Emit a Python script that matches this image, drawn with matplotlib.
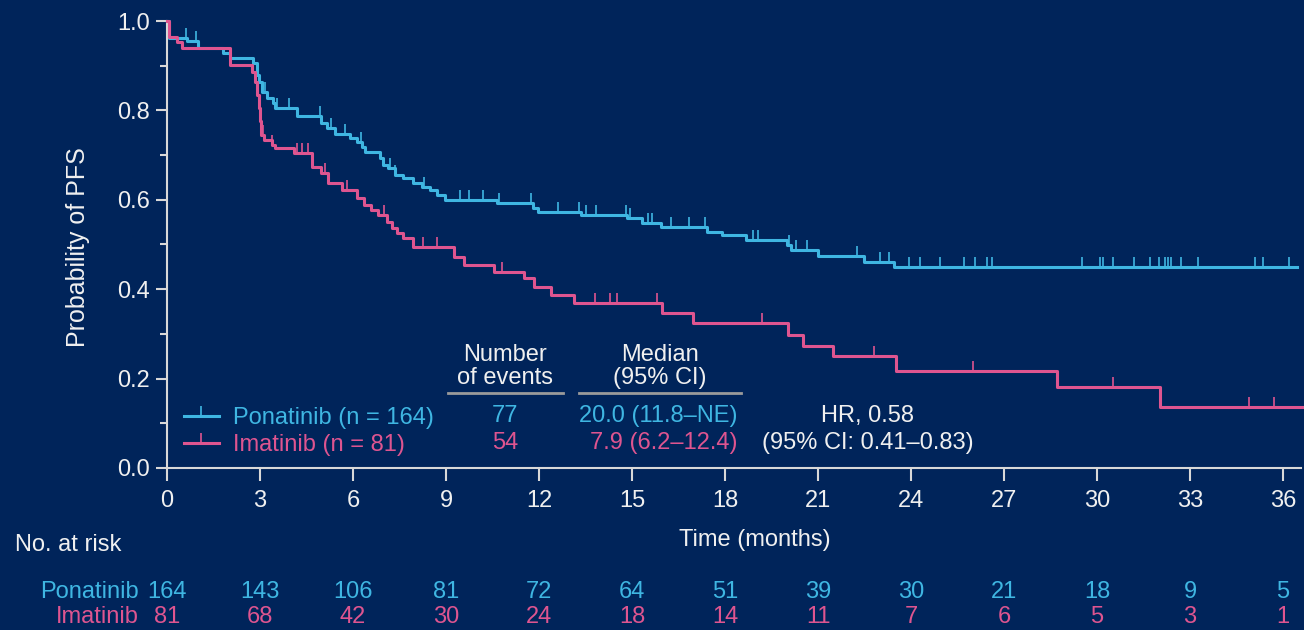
import numpy as np
import matplotlib.pyplot as plt
from matplotlib.lines import Line2D
from matplotlib.transforms import blended_transform_factory

plt.rcParams['font.family'] = ['Liberation Sans', 'DejaVu Sans']

BG = '#00245a'
CYAN = '#3fb6e2'
PINK = '#de5590'
FG = '#f0f0f0'
AXC = '#d8d8d8'
FS = 17

# Kaplan-Meier steps: time of each drop (months) and survival after it
pon_t = [0.05, 0.65, 1.0, 1.8, 2.03, 2.77, 2.9, 2.97, 3.06, 3.23, 3.42, 3.48,
         4.19, 4.97, 5.16, 5.42, 5.9, 6.13, 6.29, 6.39, 6.87, 6.97, 7.13, 7.35,
         7.61, 7.94, 8.23, 8.48, 8.71, 8.97, 10.65, 11.8, 11.97, 13.35, 14.84,
         15.32, 15.94, 17.42, 17.9, 18.68, 20.0, 20.13, 21.0, 22.48, 23.45]
pon_s = [0.963, 0.956, 0.94, 0.928, 0.917, 0.906, 0.88, 0.864, 0.841, 0.828,
         0.816, 0.805, 0.788, 0.771, 0.761, 0.748, 0.738, 0.73, 0.718, 0.707,
         0.694, 0.678, 0.671, 0.655, 0.649, 0.638, 0.629, 0.622, 0.611, 0.60,
         0.593, 0.582, 0.573, 0.566, 0.559, 0.548, 0.539, 0.528, 0.521, 0.51,
         0.499, 0.488, 0.475, 0.46, 0.45]
pon_end = 36.45
pon_cens = [0.6, 0.95, 3.15, 3.55, 3.95, 4.93, 5.3, 5.75, 6.25, 7.2, 7.35, 8.3,
            9.45, 9.75, 10.2, 10.7, 11.75, 12.6, 13.3, 13.5, 13.85, 14.8, 14.95,
            15.5, 15.65, 16.25, 16.85, 17.35, 18.9, 19.05, 20.05, 20.3, 20.65,
            22.25, 23.0, 23.3, 23.95, 24.3, 24.95, 25.7, 26.05, 26.45, 26.6,
            29.5, 30.1, 30.2, 30.5, 31.2, 31.7, 32.0, 32.2, 32.3, 32.4, 32.7,
            33.25, 35.1, 35.35, 36.2]

imat_t = [0.05, 0.32, 0.48, 2.03, 2.74, 2.84, 2.9, 2.97, 3.0, 3.03, 3.13, 3.39,
          3.48, 4.1, 4.68, 4.97, 5.19, 5.65, 6.13, 6.35, 6.58, 6.81, 7.1, 7.26,
          7.42, 7.61, 7.94, 9.26, 9.58, 10.55, 11.52, 11.84, 12.39, 13.13,
          15.97, 16.97, 20.03, 20.52, 21.48, 23.52, 28.71, 32.03]
imat_s = [0.965, 0.954, 0.94, 0.902, 0.886, 0.864, 0.834, 0.805, 0.777, 0.745,
          0.734, 0.723, 0.716, 0.705, 0.674, 0.66, 0.638, 0.622, 0.604, 0.589,
          0.577, 0.566, 0.55, 0.537, 0.526, 0.515, 0.495, 0.473, 0.454, 0.438,
          0.424, 0.405, 0.386, 0.369, 0.347, 0.324, 0.298, 0.273, 0.251, 0.218,
          0.182, 0.136]
imat_end = 36.6
imat_cens = [3.1, 3.4, 4.2, 4.35, 4.55, 5.1, 5.8, 7.0, 8.25, 8.7, 10.8, 13.8,
             14.3, 14.5, 15.8, 19.2, 22.8, 26.0, 30.5, 34.9, 35.7]

risk_months = list(range(0, 37, 3))
pon_risk = [164, 143, 106, 81, 72, 64, 51, 39, 30, 21, 18, 9, 5]
imat_risk = [81, 68, 42, 30, 24, 18, 14, 11, 7, 6, 5, 3, 1]


def km_arrays(times, surv, end):
    t = np.r_[0.0, times, end]
    s = np.r_[1.0, surv, surv[-1]]
    return t, s


def level_at(times, surv, x):
    idx = np.searchsorted(times, x, side='right')
    return np.r_[1.0, surv][idx]


fig = plt.figure(figsize=(13.04, 6.3), dpi=100, facecolor=BG)
ax = fig.add_axes([167 / 1304, 162 / 630, 1134 / 1304, 447 / 630])
ax.set_facecolor(BG)

for times, surv, end, cens, col in [(pon_t, pon_s, pon_end, pon_cens, CYAN),
                                    (imat_t, imat_s, imat_end, imat_cens, PINK)]:
    t, s = km_arrays(times, surv, end)
    ax.step(t, s, where='post', color=col, lw=2.2, clip_on=False, zorder=3)
    ax.plot(cens, level_at(times, surv, np.array(cens)), ls='none', marker=2,
            ms=7, mew=1.2, color=col, clip_on=False, zorder=3)

ax.set_xlim(0, 36.58)
ax.set_ylim(0, 1.0)
for side in ['top', 'right']:
    ax.spines[side].set_visible(False)
for side in ['left', 'bottom']:
    ax.spines[side].set_color(AXC)
    ax.spines[side].set_linewidth(1.5)

ax.set_xticks(risk_months)
ax.set_yticks(np.arange(0, 1.01, 0.2))
ax.set_yticks(np.arange(0.1, 1.0, 0.2), minor=True)
ax.set_yticklabels([f'{v:.1f}' for v in np.arange(0, 1.01, 0.2)])
ax.tick_params(axis='both', colors=AXC, labelcolor=FG, labelsize=FS, width=1.5)
ax.tick_params(axis='y', which='major', length=8, pad=4)
ax.tick_params(axis='y', which='minor', length=5, width=1.5, colors=AXC)
ax.tick_params(axis='x', length=9, pad=7)

fig.text(78 / 1304, 1 - 247 / 630, 'Probability of PFS', rotation=90,
         ha='center', va='center', color=FG, fontsize=18)
fig.text(755 / 1304, 1 - 540 / 630, 'Time (months)', ha='center', va='center',
         color=FG, fontsize=FS)

# legend with censor-tick handles
handles = [Line2D([], [], color=CYAN, lw=2.2, marker=2, ms=7, mew=1.2),
           Line2D([], [], color=PINK, lw=2.2, marker=2, ms=7, mew=1.2)]
leg = ax.legend(handles, ['Ponatinib (n = 164)', 'Imatinib (n = 81)'],
                loc='lower left', bbox_to_anchor=(0.0, -0.01), frameon=False,
                fontsize=FS, handlelength=1.5, handletextpad=0.6,
                labelspacing=0.2, numpoints=1, borderpad=0.2)
for txt, col in zip(leg.get_texts(), [CYAN, PINK]):
    txt.set_color(col)

# summary table inside the plot
ax.text(10.9, 0.227, 'Number\nof events', ha='center', va='center',
        color=FG, fontsize=FS, linespacing=1.05)
ax.plot([9.06, 12.77], [0.168, 0.168], color='#9a9a9a', lw=2, clip_on=False)
ax.text(15.9, 0.227, 'Median\n(95% CI)', ha='center', va='center',
        color=FG, fontsize=FS, linespacing=1.05)
ax.plot([13.3, 18.5], [0.168, 0.168], color='#9a9a9a', lw=2, clip_on=False)

ax.text(10.9, 0.117, '77', ha='center', va='center', color=CYAN, fontsize=FS)
ax.text(10.9, 0.055, '54', ha='center', va='center', color=PINK, fontsize=FS)
ax.text(18.4, 0.117, '20.0 (11.8–NE)', ha='right', va='center', color=CYAN,
        fontsize=FS)
ax.text(18.4, 0.055, '7.9 (6.2–12.4)', ha='right', va='center', color=PINK,
        fontsize=FS)
ax.text(22.6, 0.117, 'HR, 0.58', ha='center', va='center', color=FG,
        fontsize=FS)
ax.text(22.6, 0.055, '(95% CI: 0.41–0.83)', ha='center', va='center',
        color=FG, fontsize=FS)

# number at risk
fig.text(15 / 1304, 1 - 545 / 630, 'No. at risk', ha='left', va='center',
         color=FG, fontsize=FS)
fig.text(139 / 1304, 1 - 592 / 630, 'Ponatinib', ha='right', va='center',
         color=CYAN, fontsize=FS)
fig.text(139 / 1304, 1 - 617 / 630, 'Imatinib', ha='right', va='center',
         color=PINK, fontsize=FS)
trans = blended_transform_factory(ax.transData, fig.transFigure)
for m, p, i in zip(risk_months, pon_risk, imat_risk):
    ax.text(m, 1 - 592 / 630, str(p), transform=trans, ha='center',
            va='center', color=CYAN, fontsize=FS)
    ax.text(m, 1 - 617 / 630, str(i), transform=trans, ha='center',
            va='center', color=PINK, fontsize=FS)

fig.savefig('out.png', dpi=100, facecolor=BG)
